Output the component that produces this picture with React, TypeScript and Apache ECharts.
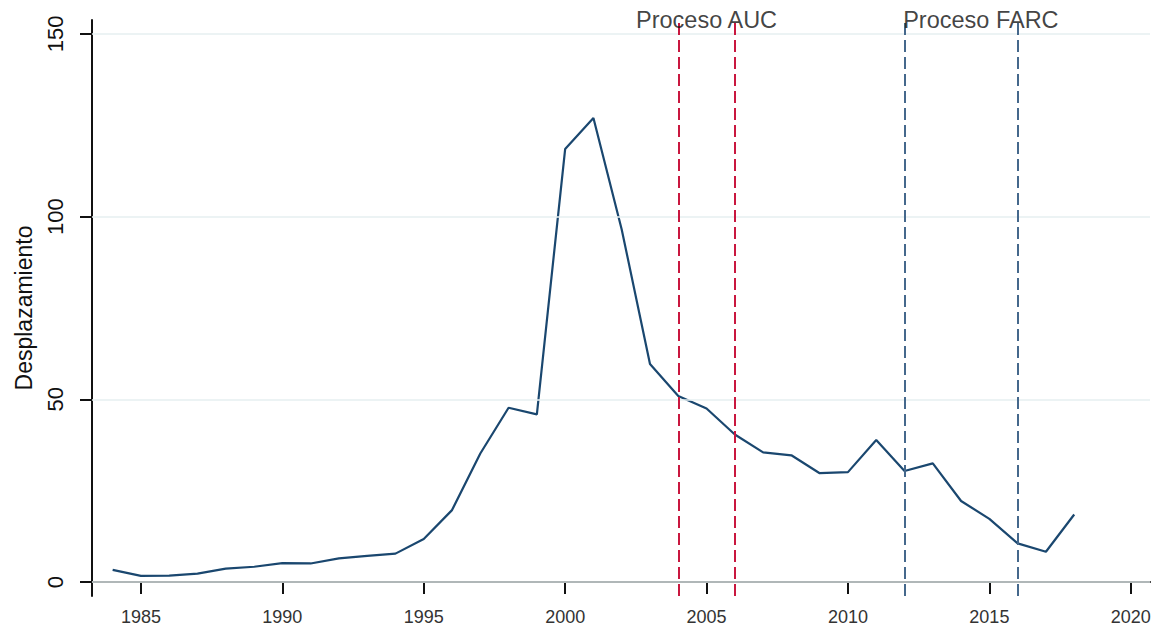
import React, { useEffect, useRef } from "react";
import * as echarts from "echarts";

const years = [
  1984, 1985, 1986, 1987, 1988, 1989, 1990, 1991, 1992, 1993, 1994, 1995, 1996,
  1997, 1998, 1999, 2000, 2001, 2002, 2003, 2004, 2005, 2006, 2007, 2008, 2009,
  2010, 2011, 2012, 2013, 2014, 2015, 2016, 2017, 2018,
];
const displacement = [
  3.35, 1.7, 1.8, 2.3, 3.7, 4.2, 5.2, 5.1, 6.5, 7.2, 7.8, 11.8, 19.7, 35.2, 47.7,
  45.9, 118.5, 127.0, 96.5, 59.7, 50.9, 47.5, 40.4, 35.5, 34.7, 29.8, 30.1, 38.9,
  30.4, 32.5, 22.2, 17.3, 10.6, 8.3, 18.5,
];
const xTicks = [1985, 1990, 1995, 2000, 2005, 2010, 2015, 2020];
const yTicks = [0, 50, 100, 150];
const aucLines = [2004, 2006];
const farcLines = [2012, 2016];
const annotationTexts = ["Proceso AUC", "Proceso FARC"];
const annotationX = [2005, 2014.7];
const yAxisTitle = "Desplazamiento";

const X_MIN = 1983.27;
const X_MAX = 2020.68;
const Y_MIN = -3.8;
const Y_MAX = 153.8;

const LINE_COLOR = "#1a476f";
const AUC_COLOR = "#c9173f";
const FARC_COLOR = "#45688c";
const GRID_COLOR = "#e6eff1";
const FONT = "'Liberation Sans', Arial, sans-serif";

export default function App() {
  const ref = useRef<HTMLDivElement>(null);

  useEffect(() => {
    if (!ref.current) return;
    const chart = echarts.init(ref.current, null, { renderer: "svg" });

    const vLine = (x: number, color: string) => ({
      xAxis: x,
      lineStyle: { color, width: 2, type: [12, 5] as any },
    });

    chart.setOption({
      animation: false,
      backgroundColor: "#ffffff",
      grid: { left: 92, right: 5, top: 20, bottom: 28, containLabel: false },
      xAxis: {
        type: "value",
        min: X_MIN,
        max: X_MAX,
        axisLine: { show: true, lineStyle: { color: "#111", width: 2 } },
        axisTick: {
          show: true,
          length: 12,
          customValues: xTicks,
          lineStyle: { color: "#111", width: 2 },
        },
        axisLabel: {
          customValues: xTicks,
          fontSize: 18,
          fontFamily: FONT,
          color: "#333",
          margin: 12,
          formatter: (v: number) => String(v),
        },
        splitLine: { show: false },
      },
      yAxis: {
        type: "value",
        min: Y_MIN,
        max: Y_MAX,
        name: yAxisTitle,
        nameLocation: "middle",
        nameRotate: 90,
        nameGap: 57,
        nameTextStyle: { fontSize: 23, fontFamily: FONT, color: "#111" },
        axisLine: { show: true, lineStyle: { color: "#111", width: 2 } },
        axisTick: {
          show: true,
          length: 12,
          customValues: yTicks,
          lineStyle: { color: "#111", width: 2 },
        },
        axisLabel: {
          customValues: yTicks,
          rotate: 90,
          fontSize: 22,
          fontFamily: FONT,
          color: "#111",
          margin: 26,
          formatter: (v: number) => String(v),
        },
        splitLine: { show: false },
      },
      series: [
        {
          type: "line",
          data: [],
          silent: true,
          markLine: {
            symbol: "none",
            silent: true,
            label: { show: false },
            lineStyle: { color: GRID_COLOR, width: 1.5, type: "solid" },
            data: yTicks.map((v) => ({ yAxis: v })),
          },
        },
        {
          type: "line",
          data: years.map((y, i) => [y, displacement[i]]),
          showSymbol: false,
          symbol: "none",
          lineStyle: { color: LINE_COLOR, width: 2.2 },
          itemStyle: { color: LINE_COLOR },
          z: 3,
          markLine: {
            symbol: "none",
            silent: true,
            label: { show: false },
            data: [
              ...aucLines.map((x) => vLine(x, AUC_COLOR)),
              ...farcLines.map((x) => vLine(x, FARC_COLOR)),
            ],
          },
        },
        {
          type: "scatter",
          symbolSize: 0,
          silent: true,
          z: 5,
          data: annotationX.map((x, i) => ({
            value: [x, Y_MAX],
            label: {
              show: true,
              position: "inside",
              formatter: annotationTexts[i],
              fontSize: 23.5,
              fontFamily: FONT,
              color: "#111",
            },
          })),
        },
      ],
    });

    return () => chart.dispose();
  }, []);

  return (
    <div
      ref={ref}
      style={{ position: "fixed", left: 0, top: 0, width: 1155, height: 626 }}
    />
  );
}
